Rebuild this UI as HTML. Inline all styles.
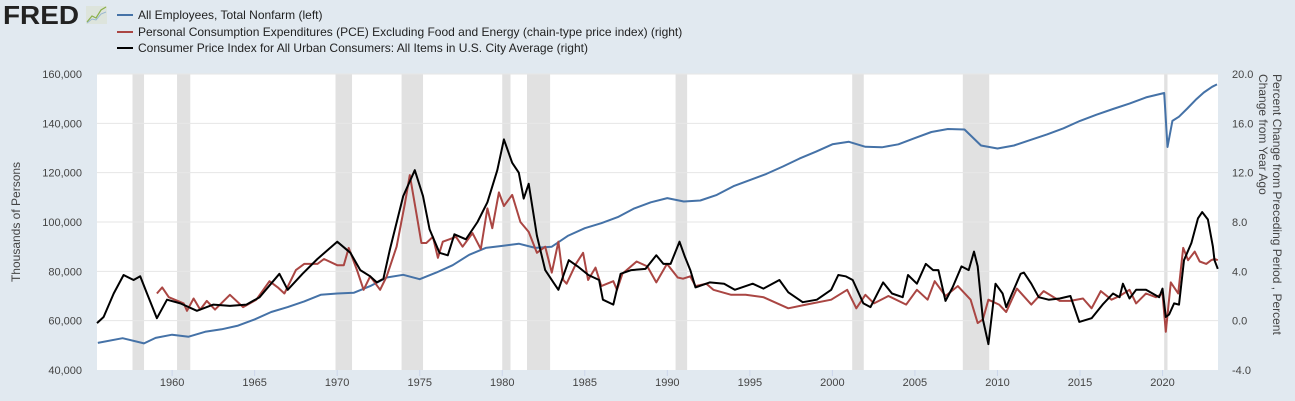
<!DOCTYPE html>
<html><head><meta charset="utf-8"><style>
body{margin:0;background:#e1e9f0;font-family:"Liberation Sans",sans-serif;}
svg{display:block}
text{font-family:"Liberation Sans",sans-serif;}
</style></head><body>
<svg id="c" width="1295" height="401">
<rect width="1295" height="401" fill="#e1e9f0"/>
<g>
<text x="3" y="24" font-size="26" font-weight="bold" fill="#222" textLength="76" lengthAdjust="spacingAndGlyphs">FRED</text>
<rect x="86" y="6" width="21" height="18" fill="#dde4dc"/>
<polyline points="87,22 92,16 96,18 101,10 106,7" fill="none" stroke="#8ab04a" stroke-width="1.2"/>
<polyline points="87,23 92,19 96,20 101,14 106,12" fill="none" stroke="#9ab8d0" stroke-width="1"/>
</g>
<g font-size="12" fill="#222">
<line x1="117" y1="15" x2="133" y2="15" stroke="#4572a7" stroke-width="2"/>
<text x="138" y="19">All Employees, Total Nonfarm (left)</text>
<line x1="117" y1="32" x2="133" y2="32" stroke="#aa4643" stroke-width="2"/>
<text x="138" y="36">Personal Consumption Expenditures (PCE) Excluding Food and Energy (chain-type price index) (right)</text>
<line x1="117" y1="48" x2="133" y2="48" stroke="#000" stroke-width="2"/>
<text x="138" y="52">Consumer Price Index for All Urban Consumers: All Items in U.S. City Average (right)</text>
</g>
<rect x="97" y="74" width="1121" height="296" fill="#fff"/>
<g id="rec"></g><g id="grid"></g><g id="axes"></g><g id="series"></g>
<text transform="translate(20,222) rotate(-90)" text-anchor="middle" font-size="12" fill="#444">Thousands of Persons</text>
<text transform="translate(1273,74) rotate(90)" font-size="12" fill="#444"><tspan x="0" y="0">Percent Change from Preceding Period , Percent</tspan><tspan x="0" y="14">Change from Year Ago</tspan></text>
</svg>
<script>
const recessions=[[1957.6,1958.3],[1960.3,1961.1],[1969.9,1970.9],[1973.9,1975.2],[1980.0,1980.5],[1981.5,1982.9],[1990.5,1991.2],[2001.2,2001.9],[2007.9,2009.5],[2020.1,2020.3]];
const leftTicks=[40000,60000,80000,100000,120000,140000,160000];
const rightTicks=[-4,0,4,8,12,16,20];
const xTicks=[1960,1965,1970,1975,1980,1985,1990,1995,2000,2005,2010,2015,2020];
const empT=[1955.5,1957,1958.3,1959,1960,1961,1962,1963,1964,1965,1966,1967,1968,1969,1970,1971,1972,1973,1974,1975,1976,1977,1978,1979,1980,1981,1982,1983,1984,1985,1986,1987,1988,1989,1990,1991,1992,1993,1994,1995,1996,1997,1998,1999,2000,2001,2002,2003,2004,2005,2006,2007,2008,2009,2010,2011,2012,2013,2014,2015,2016,2017,2018,2019,2020.1,2020.3,2020.6,2021,2021.5,2022,2022.5,2023,2023.3];
const empV=[51000,52900,50800,53000,54300,53500,55500,56500,58000,60500,63500,65500,67800,70500,71000,71300,74000,77500,78600,76800,79500,82500,86700,89500,90300,91200,89500,90000,94500,97500,99500,102000,105500,108000,109700,108300,108700,111000,114500,117000,119500,122500,125700,128500,131500,132500,130500,130300,131500,134000,136500,137700,137500,131000,129800,131000,133300,135500,138000,141000,143500,145800,148000,150500,152300,130400,141000,142700,146000,149500,152500,154800,155800];
const cpiT=[1955.45,1955.85,1956.46,1957.06,1957.67,1958.07,1958.48,1959.08,1959.69,1960.5,1961.5,1962.5,1963.5,1964.5,1965.3,1966.5,1967.0,1967.9,1968.8,1970.0,1970.8,1971.4,1972.0,1972.4,1972.8,1973.2,1974.0,1974.7,1975.2,1975.6,1976.2,1976.7,1977.1,1977.8,1978.5,1979.1,1979.7,1980.1,1980.6,1981.0,1981.3,1981.6,1982.1,1982.6,1983.1,1983.4,1984.03,1984.57,1985.22,1985.87,1986.1,1986.73,1987.17,1987.82,1988.68,1989.33,1989.76,1990.2,1990.74,1991.06,1991.39,1991.71,1992.57,1993.44,1994.09,1995.17,1995.82,1996.79,1997.33,1998.2,1999.06,1999.93,2000.36,2000.8,2001.23,2001.88,2002.31,2003.07,2003.61,2004.26,2004.58,2005.12,2005.66,2006.1,2006.42,2006.85,2007.28,2007.82,2008.26,2008.58,2008.8,2009.12,2009.45,2009.88,2010.31,2010.53,2011.4,2011.6,2012.05,2012.5,2013.1,2013.77,2014.42,2014.96,2015.7,2016.37,2017.0,2017.4,2017.6,2018.0,2018.4,2019.0,2019.4,2019.8,2020.0,2020.2,2020.4,2020.7,2021.0,2021.3,2021.75,2022.15,2022.4,2022.75,2023.05,2023.15,2023.35];
const cpiV=[-0.2,0.3,2.2,3.7,3.3,3.6,2.2,0.2,1.7,1.4,0.8,1.3,1.2,1.3,1.9,3.8,2.5,3.8,5.0,6.4,5.5,4.1,3.6,3.1,3.4,5.8,10.1,12.2,10.1,7.4,5.5,5.3,7.0,6.6,8.0,9.6,12.2,14.7,12.8,12.0,9.9,11.1,6.9,4.1,3.1,2.5,4.9,4.4,3.7,3.3,1.7,1.3,3.8,4.1,4.2,5.3,4.6,4.6,6.4,5.2,4.1,2.7,3.1,3.0,2.5,3.0,2.6,3.3,2.3,1.5,1.7,2.5,3.7,3.6,3.3,1.4,1.1,3.1,2.2,1.9,3.7,3.0,4.6,4.1,4.1,1.6,2.7,4.4,4.1,5.6,4.4,0.1,-1.9,3.0,2.2,1.1,3.8,3.9,3.0,1.9,1.7,1.8,2.0,-0.1,0.2,1.3,2.2,1.9,3.0,1.8,2.5,2.5,2.2,1.9,2.6,0.3,0.5,1.4,1.3,4.9,6.3,8.3,8.8,8.2,6.0,4.9,4.2];
const pceT=[1959.08,1959.4,1959.8,1960.7,1960.9,1961.3,1961.7,1962.1,1962.6,1963.5,1964.3,1965.1,1965.9,1966.4,1966.8,1967.5,1968.0,1968.8,1969.2,1970.0,1970.4,1970.7,1971.2,1971.6,1972.0,1972.6,1973.0,1973.6,1974.1,1974.4,1974.8,1975.1,1975.4,1975.8,1976.1,1976.4,1976.8,1977.2,1977.6,1978.2,1978.7,1979.1,1979.4,1979.8,1980.1,1980.6,1981.1,1981.6,1982.1,1982.6,1983.0,1983.4,1983.7,1983.9,1984.46,1984.9,1985.2,1985.65,1986.0,1986.73,1986.95,1987.28,1988.14,1988.79,1989.33,1989.98,1990.63,1990.95,1991.39,1991.71,1992.36,1992.79,1993.87,1994.74,1995.82,1997.33,1998.41,1999.93,2000.9,2001.45,2002.0,2002.52,2003.39,2004.47,2005.12,2005.77,2006.2,2006.85,2007.6,2008.37,2008.8,2009.12,2009.45,2010.1,2010.53,2011.18,2012.05,2012.8,2013.77,2014.42,2015.18,2015.7,2016.26,2016.91,2017.4,2018.0,2018.4,2019.0,2019.6,2020.0,2020.2,2020.5,2020.95,2021.25,2021.55,2021.95,2022.25,2022.65,2022.95,2023.15,2023.35];
const pceV=[2.2,2.7,1.9,1.4,0.8,1.8,0.9,1.6,0.9,2.1,1.1,1.7,3.2,2.7,2.2,4.1,4.6,4.6,5.0,4.5,4.5,5.9,4.1,2.5,3.6,2.5,3.6,6.0,9.5,11.8,8.7,6.3,6.3,6.8,5.1,6.4,6.6,6.8,6.0,7.1,5.8,9.1,7.5,10.4,9.3,10.2,8.0,7.2,5.5,6.0,3.9,6.4,3.3,3.0,4.6,5.5,3.3,4.3,2.8,3.2,2.5,3.8,4.8,4.4,3.1,4.6,3.5,3.4,3.6,2.8,3.0,2.5,2.1,2.1,1.9,1.0,1.3,1.7,2.5,1.0,2.1,1.4,2.0,1.3,2.5,1.7,3.2,2.0,2.8,1.7,-0.2,0.1,1.7,1.3,0.7,2.6,1.3,2.4,1.6,1.6,1.8,1.0,2.4,1.7,2.0,2.5,1.4,2.2,1.9,2.2,-0.9,3.1,2.2,5.9,4.9,5.6,4.8,4.6,4.9,5.0,4.9];

const X0=97,X1=1218,Y0=74,Y1=370,T0=1955.45,T1=2023.36;
const xs=t=>X0+(t-T0)/(T1-T0)*(X1-X0);
const yl=v=>Y1-(v-40000)/120000*(Y1-Y0);
const yr=v=>Y1-(v+4)/24*(Y1-Y0);
const NS="http://www.w3.org/2000/svg";
function mk(tag,attrs,parent){const e=document.createElementNS(NS,tag);for(const k in attrs)e.setAttribute(k,attrs[k]);document.getElementById(parent).appendChild(e);return e;}
recessions.forEach(r=>{const e=mk('rect',{x:xs(r[0]),y:Y0,width:xs(r[1])-xs(r[0]),height:Y1-Y0,fill:'#e1e1e1'},'rec');

});
leftTicks.forEach((v,i)=>{const y=yl(v);
if(i>0){const g=mk('line',{x1:X0,x2:X1,y1:y,y2:y,stroke:'#e6e6e6','stroke-width':1},'grid');

}
const t=mk('text',{x:82,y:y+4,'text-anchor':'end','font-size':11,fill:'#444'},'axes');t.textContent=v.toLocaleString('en-US');

});
rightTicks.forEach(v=>{const t=mk('text',{x:1232,y:yr(v)+4,'font-size':11,fill:'#444'},'axes');t.textContent=v.toFixed(1);

});
xTicks.forEach(v=>{const x=xs(v);mk('line',{x1:x,x2:x,y1:Y1,y2:Y1+6,stroke:'#ccd6eb'},'axes');
const t=mk('text',{x:x,y:Y1+16,'text-anchor':'middle','font-size':11,fill:'#444'},'axes');t.textContent=v;

});
function line(T,V,f,col,name){const p=mk('polyline',{points:T.map((t,i)=>xs(t).toFixed(1)+','+f(V[i]).toFixed(1)).join(' '),fill:'none',stroke:col,'stroke-width':2,'stroke-linejoin':'round'},'series');

}
line(empT,empV,yl,'#4572a7','nonfarm-line');
line(pceT,pceV,yr,'#aa4643','pce-line');
line(cpiT,cpiV,yr,'#000','cpi-line');
</script>
</body></html>
